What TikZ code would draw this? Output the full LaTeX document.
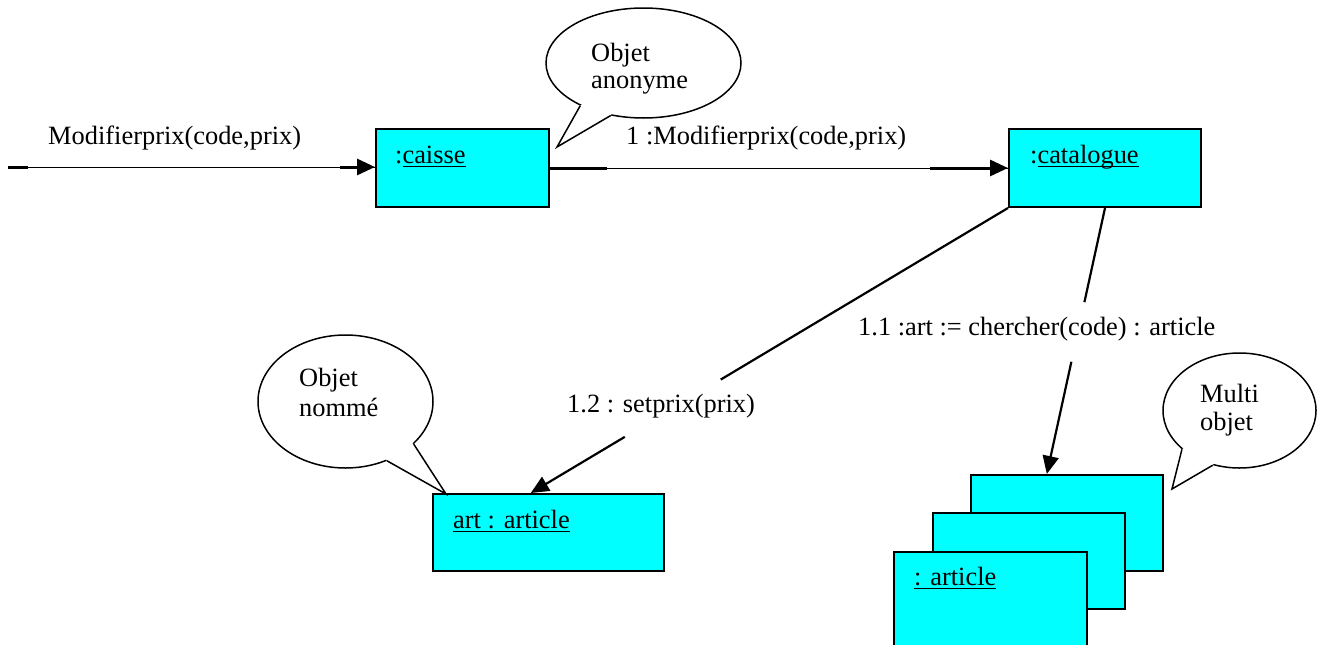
\documentclass[tikz,border=0pt]{standalone}
\usepackage{fontspec}
\setmainfont{Liberation Serif}
\usetikzlibrary{arrows.meta,shapes.geometric,calc}
\definecolor{objcyan}{RGB}{0,255,255}
\newcommand\ulword[1]{\setbox0\hbox{#1}\rlap{\rule[-4pt]{\wd0}{1.4pt}}\box0}
\begin{document}
\begin{tikzpicture}[x=1pt,y=-1pt,
  txt/.style={font=\fontsize{26.4}{30}\selectfont, inner sep=0pt, anchor=base west},
  objbox/.style={draw=black, line width=2pt, fill=objcyan, rectangle, inner sep=0pt, anchor=north west},
  bubble/.style={draw=black, line width=1.5pt, fill=white, ellipse, inner sep=0pt},
  thinline/.style={line width=1pt},
  thickline/.style={line width=3pt},
  conn/.style={line width=2.2pt},
  tip/.style={-{Triangle[length=18pt,width=16pt]}}]
\useasboundingbox (0,0) rectangle (1325,645);
\clip (0,0) rectangle (1325,645);

% object boxes
\node[objbox, minimum width=173pt, minimum height=78pt] (caisse) at (375,128) {};
\node[objbox, minimum width=192pt, minimum height=78pt] (catalogue) at (1008,128) {};
\node[objbox, minimum width=231pt, minimum height=77pt] (art) at (432,493) {};
\node[objbox, minimum width=192pt, minimum height=96pt] (m3) at (970,474) {};
\node[objbox, minimum width=192pt, minimum height=96pt] (m2) at (932,512) {};
\node[objbox, minimum width=193pt, minimum height=120pt] (m1) at (893,551) {};

% box texts
\node[txt] (tcaisse) at (395,163) {:\ulword{caisse}};
\node[txt] (tcatalogue) at (1030,163) {:\ulword{catalogue}};
\node[txt] (tart) at (453,528) {\ulword{art : article}};
\node[txt] (tmulti) at (914,585) {\ulword{: article}};

% incoming message
\coordinate (src) at (8,167);
\draw[thinline] (src) -- (src -| caisse.west);
\draw[thickline] (src) -- ++(20,0);
\draw[thickline, tip] ($(src -| caisse.west)+(-35,0)$) -- (src -| caisse.west);
\node[txt] (lin) at (48,144) {Modifierprix(code,prix)};

% caisse -> catalogue
\draw[thinline] (caisse.east) -- (catalogue.west);
\draw[thickline] (caisse.east) -- ++(57,0);
\draw[thickline, tip] ($(catalogue.west)+(-78,0)$) -- (catalogue.west);
\node[txt] (l1) at (626,144) {1 :Modifierprix(code,prix)};

% catalogue -> art
\coordinate (artin) at ($(art.north west)!0.424!(art.north east)$);
\draw[conn] (catalogue.south west) -- ($(catalogue.south west)!0.602!(artin)$);
\draw[conn, tip] ($(catalogue.south west)!0.803!(artin)$) -- (artin);
\node[txt] (l12) at (567,412) {1.2 : setprix(prix)};

% catalogue -> multi
\coordinate (multin) at ($(m3.north west)!0.396!(m3.north east)$);
\draw[conn] (catalogue.south) -- ($(catalogue.south)!0.354!(multin)$);
\draw[conn, tip] ($(catalogue.south)!0.578!(multin)$) -- (multin);
\node[txt] (l11) at (858,335) {1.1 :art := chercher(code) : article};

% bubbles
\node[bubble, minimum width=195pt, minimum height=110pt] (banon) at (643.5,63) {};
\coordinate (tanon) at (557,147);
\fill[white] (banon.center) -- (banon.214) -- (tanon) -- (banon.238) -- cycle;
\draw[line width=1.5pt, line join=miter] (banon.214) -- (tanon) -- (banon.238);
\node[txt] (ta1) at (591,61) {Objet};
\node[txt] (ta2) at (591,88) {anonyme};

\node[bubble, minimum width=175pt, minimum height=133pt] (bnom) at (345.5,401.5) {};
\coordinate (tnom) at (446,494);
\fill[white] (bnom.center) -- (bnom.305) -- (tnom) -- (bnom.328) -- cycle;
\draw[line width=1.5pt, line join=miter] (bnom.305) -- (tnom) -- (bnom.328);
\node[txt] (tn1) at (299,386) {Objet};
\node[txt] (tn2) at (299,416) {nommé};

\node[bubble, minimum width=153pt, minimum height=115pt] (bmul) at (1239.5,410.5) {};
\coordinate (tmul) at (1172,489);
\fill[white] (bmul.center) -- (bmul.214) -- (tmul) -- (bmul.244) -- cycle;
\draw[line width=1.5pt, line join=miter] (bmul.214) -- (tmul) -- (bmul.244);
\node[txt] (tm1) at (1200,402) {Multi};
\node[txt] (tm2) at (1200,430) {objet};
\end{tikzpicture}
\end{document}
